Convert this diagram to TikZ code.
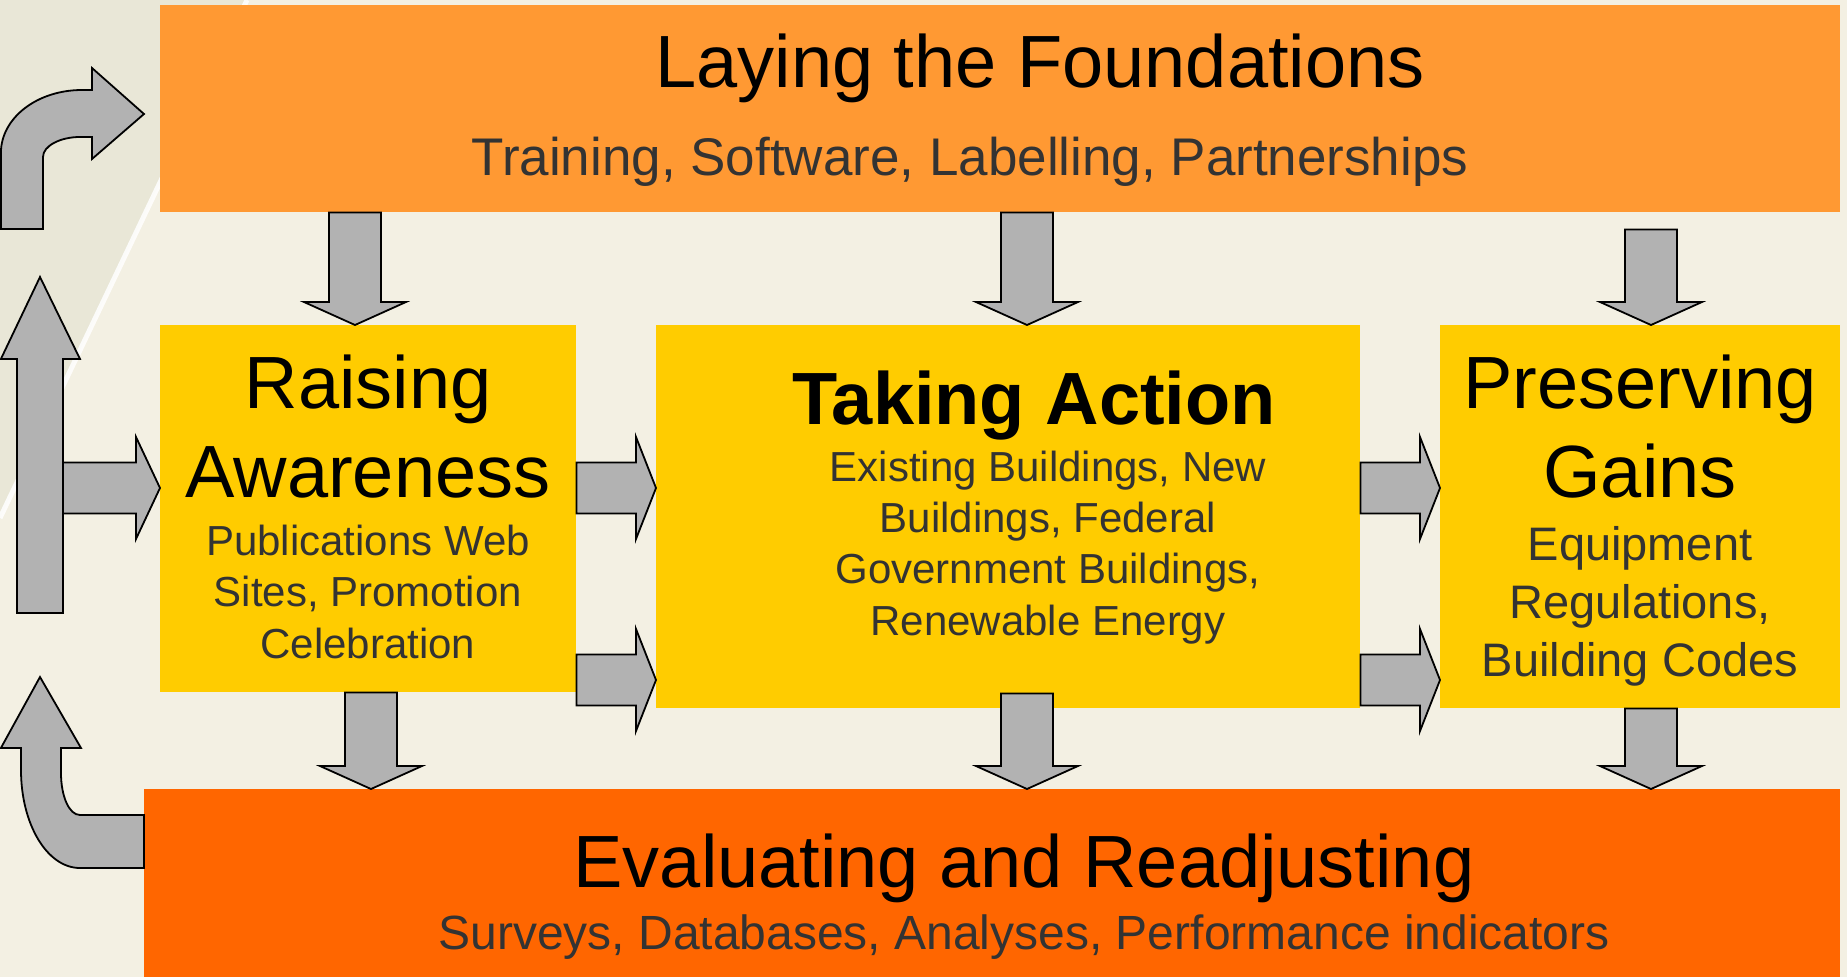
\documentclass[tikz,border=0pt]{standalone}
\usepackage{fontspec}
\setmainfont{Liberation Sans}
\usetikzlibrary{calc}
\definecolor{foundorange}{RGB}{255,153,51}
\definecolor{stageyellow}{RGB}{255,204,0}
\definecolor{evalorange}{RGB}{255,102,0}
\definecolor{arrowgray}{RGB}{178,178,178}
\definecolor{subgray}{RGB}{51,51,51}
\definecolor{bgbeige}{RGB}{243,240,227}
\definecolor{bgwedge}{RGB}{233,231,215}

\tikzset{
  stagebox/.style={rectangle, inner sep=0pt, anchor=north west},
  blockarrow/.style={draw=black, fill=arrowgray, line width=1.8pt, line join=miter},
  headtext/.style={anchor=base, text=black, align=center, inner sep=0pt, font=\fontsize{74}{89}\selectfont},
  subtext/.style={anchor=base, text=subgray, align=center, inner sep=0pt},
}

% block arrows from one point to another
\newcommand{\downblock}[2]{%
  \draw[blockarrow] let \p1=(#1), \p2=(#2) in
    (\x1-26pt,\y1) -- (\x1+26pt,\y1) -- (\x1+26pt,\y2+23pt) -- (\x1+51pt,\y2+23pt)
    -- (\x1,\y2) -- (\x1-51pt,\y2+23pt) -- (\x1-26pt,\y2+23pt) -- cycle;}
\newcommand{\rightblock}[3][20pt]{%
  \draw[blockarrow] let \p1=(#2), \p2=(#3) in
    (\x1,\y1+25.5pt) -- (\x2-#1,\y1+25.5pt) -- (\x2-#1,\y1+51pt) -- (\x2,\y1)
    -- (\x2-#1,\y1-51pt) -- (\x2-#1,\y1-25.5pt) -- (\x1,\y1-25.5pt) -- cycle;}

\begin{document}
\begin{tikzpicture}[x=1pt, y=-1pt]
    \useasboundingbox (0,0) rectangle (1847,977);

    % Background
    \fill[bgbeige] (0,0) rectangle (1847,977);
    \fill[bgwedge] (0,0) -- (247,0) -- (0,518) -- cycle;
    \draw[white, line width=5pt, opacity=0.85] (247,0) -- (0,518);

    % Stage boxes
    \node[stagebox, fill=foundorange, minimum width=1680pt, minimum height=207pt] (found) at (160,5) {};
    \node[stagebox, fill=stageyellow, minimum width=416pt, minimum height=367pt] (raise) at (160,325) {};
    \node[stagebox, fill=stageyellow, minimum width=704pt, minimum height=383pt] (task) at (656,325) {};
    \node[stagebox, fill=stageyellow, minimum width=400pt, minimum height=383pt] (keep) at (1440,325) {};
    \node[stagebox, fill=evalorange, minimum width=1696pt, minimum height=188pt] (eval) at (144,789) {};

    % Texts (base = baseline of the last line)
    \node[headtext] (foundtitle) at (1040,87) {Laying the Foundations};
    \node[subtext, font=\fontsize{53}{64}\selectfont] (foundsub) at (970,175) {Training, Software, Labelling, Partnerships};

    \node[headtext] (raisetitle) at (368,497) {Raising\\Awareness};
    \node[subtext, font=\fontsize{42}{51.5}\selectfont] (raisesub) at (368,658) {Publications Web\\Sites, Promotion\\Celebration};

    \node[headtext, font=\fontsize{74}{89}\selectfont\bfseries] (tasktitle) at (1034,424) {Taking Action};
    \node[subtext, font=\fontsize{42}{51.3}\selectfont] (tasksub) at (1048,635) {Existing Buildings, New\\Buildings, Federal\\Government Buildings,\\Renewable Energy};

    \node[headtext] (keeptitle) at (1640,497) {Preserving\\Gains};
    \node[subtext, font=\fontsize{47}{58}\selectfont] (keepsub) at (1640,676) {Equipment\\Regulations,\\Building Codes};

    \node[headtext] (evaltitle) at (1024,887) {Evaluating and Readjusting};
    \node[subtext, font=\fontsize{48}{58}\selectfont] (evalsub) at (1024,949) {Surveys, Databases, Analyses, Performance indicators};

    % Arrows down from the foundations
    \downblock{found.south -| 355,0}{raise.north -| 355,0}
    \downblock{found.south -| 1027,0}{task.north -| 1027,0}
    \downblock{$(found.south -| 1651,0)+(0,17)$}{keep.north -| 1651,0}

    % Arrows across
    \rightblock{raise.east |- 0,488}{task.west |- 0,488}
    \rightblock{raise.east |- 0,680}{task.west |- 0,680}
    \rightblock{task.east |- 0,488}{keep.west |- 0,488}
    \rightblock{task.east |- 0,680}{keep.west |- 0,680}

    % Arrows down to the evaluation
    \downblock{raise.south -| 371,0}{eval.north -| 371,0}
    \downblock{$(task.south -| 1027,0)+(0,-15)$}{eval.north -| 1027,0}
    \downblock{keep.south -| 1651,0}{eval.north -| 1651,0}

    % Feedback loop on the left
    \draw[blockarrow] (eval.west |- 0,815) -- (80,815) .. controls (69,815) and (61,796) .. (61,773)
        -- (61,748) -- (81,748) -- (40,677) -- (0.9,748) -- (21,748) -- (21,770)
        .. controls (21,824) and (47,868) .. (80,868) -- (eval.west |- 0,868) -- cycle;
    \draw[blockarrow] (40,277) -- (80,359) -- (63,359) -- (63,613) -- (17,613) -- (17,359) -- (0.9,359) -- cycle;
    \rightblock[24pt]{63,488}{raise.west |- 0,488}
    \draw[blockarrow] (0.9,229) -- (0.9,153) .. controls (0.9,118) and (37,90) .. (82,90) -- (92,90)
        -- (92,68) -- (144,114) -- (92,159) -- (92,137) -- (80,137) .. controls (60,137) and (43,146) .. (43,157)
        -- (43,229) -- cycle;
\end{tikzpicture}
\end{document}
